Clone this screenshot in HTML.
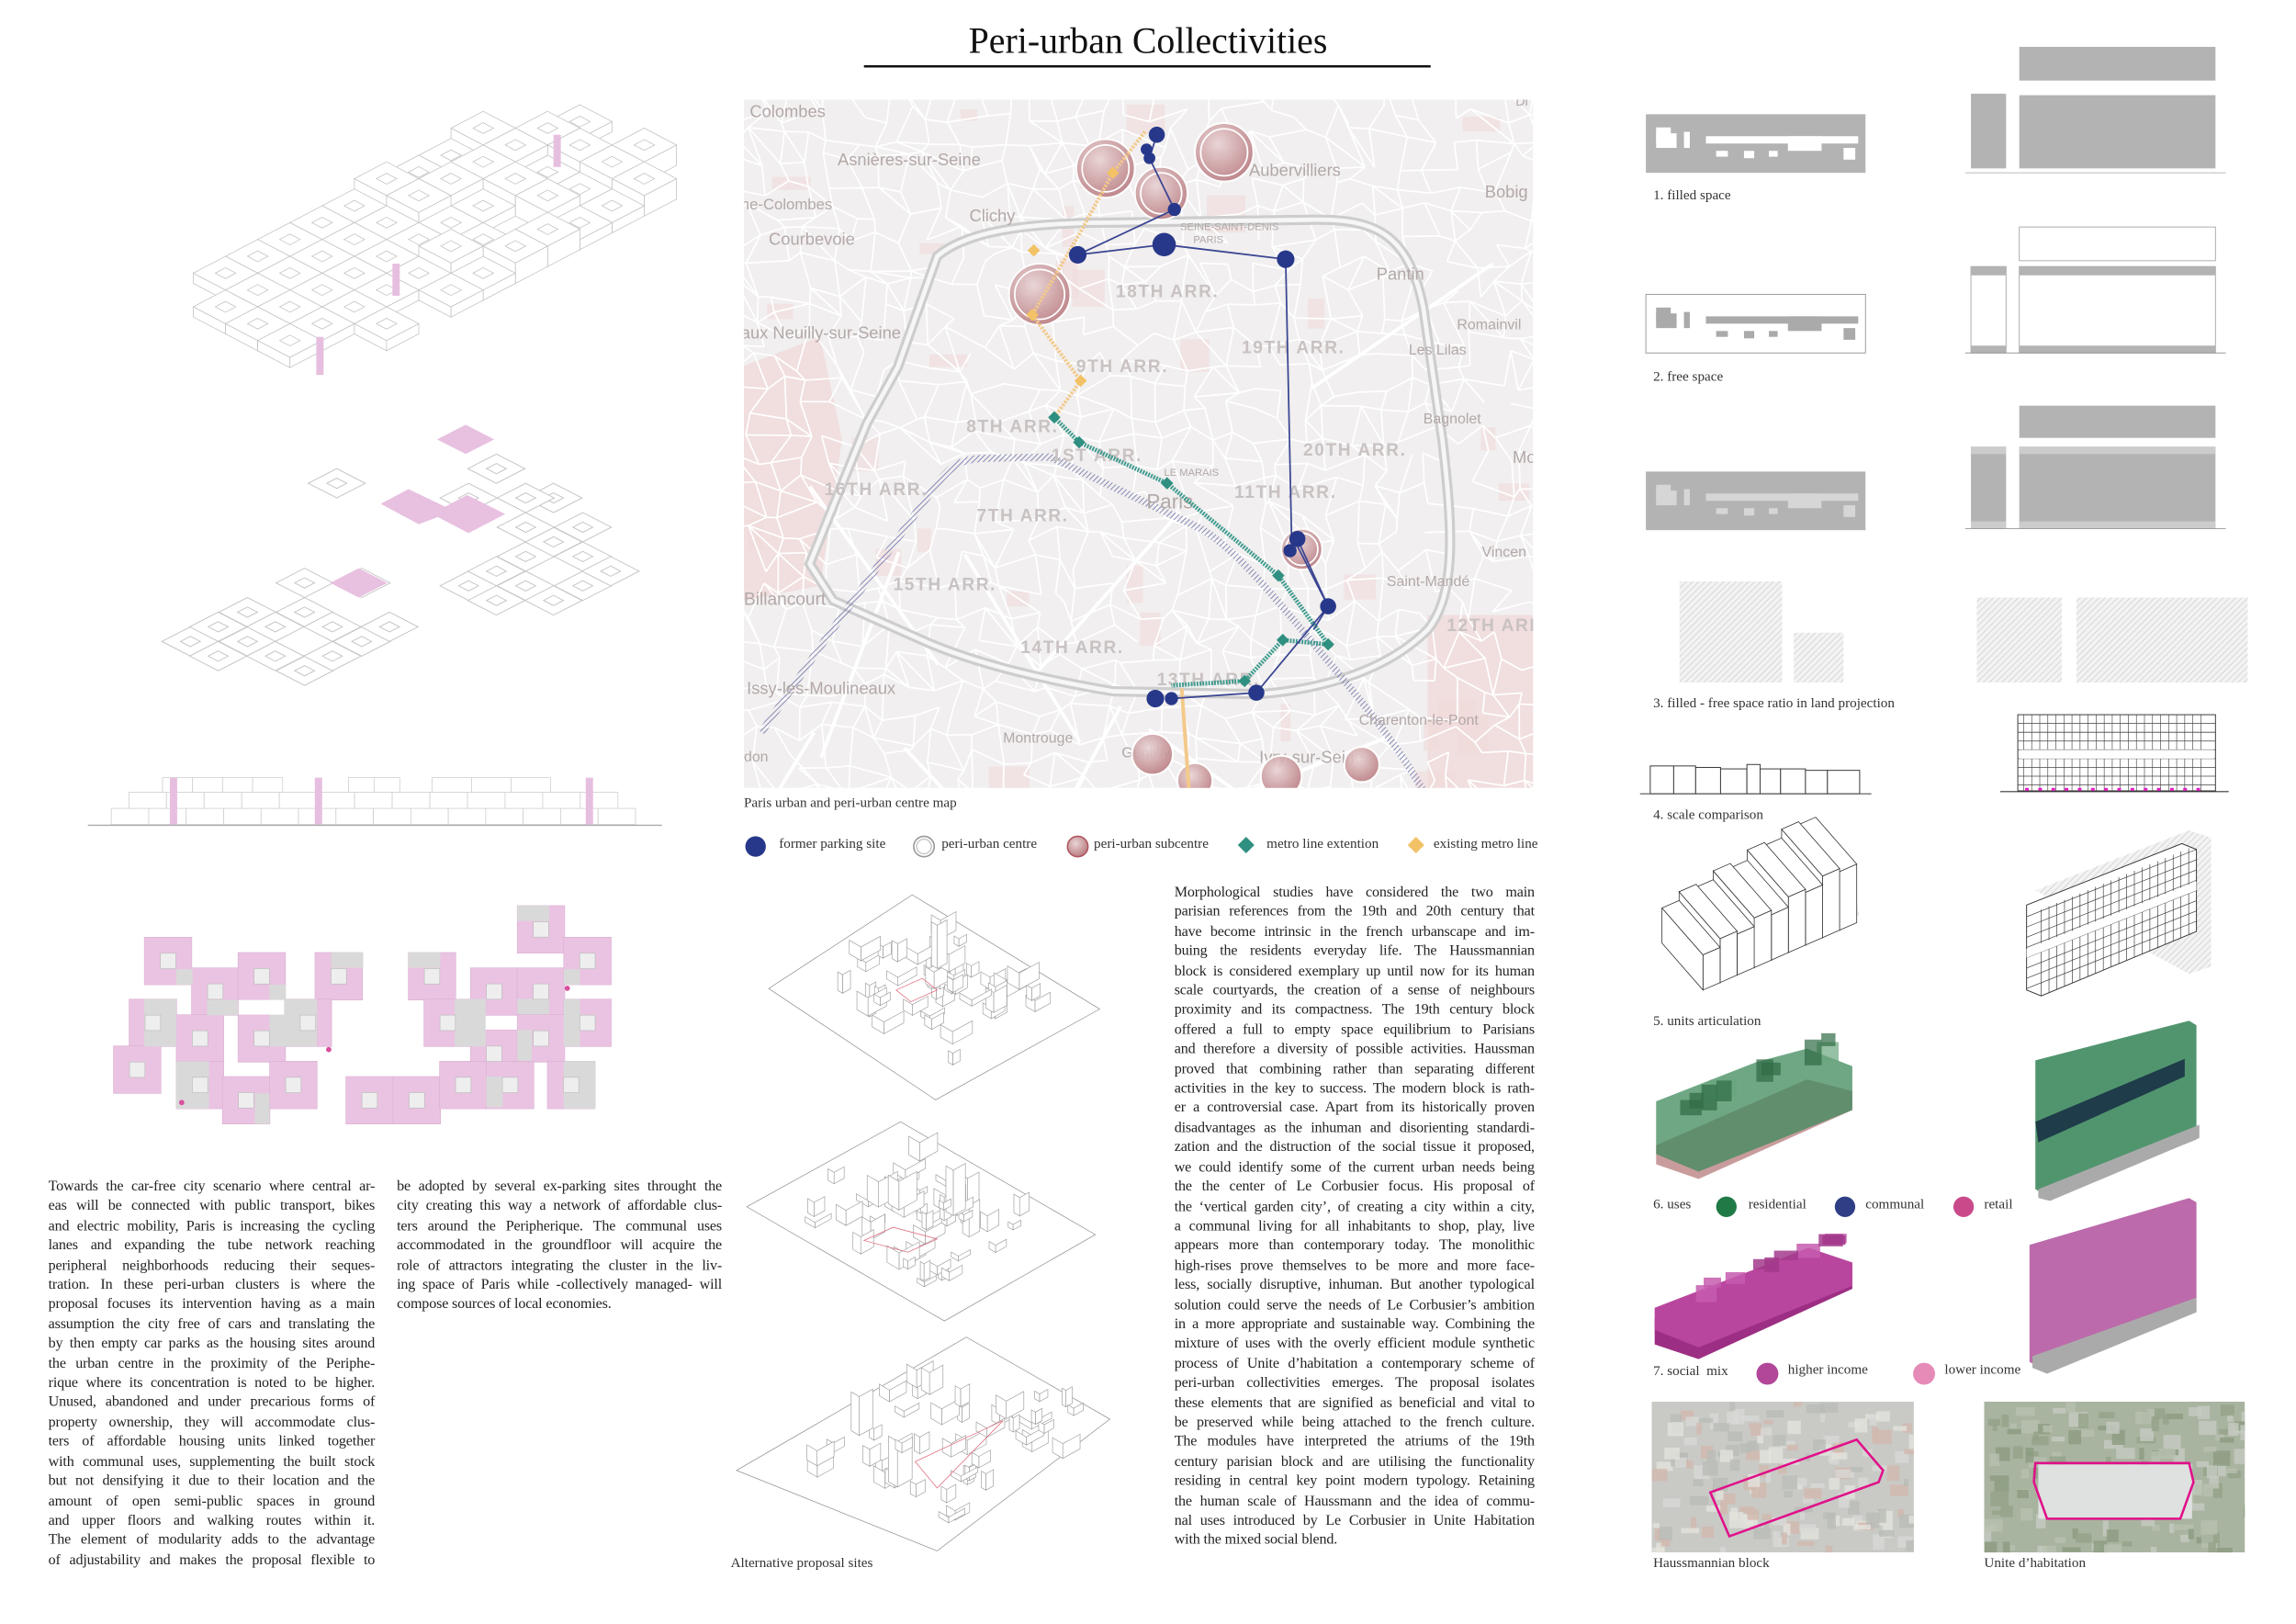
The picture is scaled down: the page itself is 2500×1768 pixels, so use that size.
<!DOCTYPE html>
<html><head><meta charset="utf-8">
<style>
html,body{margin:0;padding:0;background:#fff;width:2500px;height:1768px;overflow:hidden}
#w{position:absolute;left:0;top:0;width:1568px;height:1109px;transform:scale(1.5944);transform-origin:0 0;font-family:"Liberation Serif",serif;color:#222}
svg{position:absolute;left:0;top:0}
.t{position:absolute;font-size:10.1px;line-height:13.4px;letter-spacing:-0.1px}
.t div{text-align:justify;text-align-last:justify;white-space:nowrap;overflow:visible}
.t div.l{text-align-last:left}
.lab{position:absolute;font-size:9.5px;white-space:nowrap;color:#333}
</style></head><body>
<div id="w">
<svg id="s" width="1568" height="1109" viewBox="0 0 1568 1109">
<defs>
<pattern id="hat" width="3" height="3" patternUnits="userSpaceOnUse" patternTransform="rotate(45)"><rect width="3" height="3" fill="#f3f3f3"/><line x1="0" y1="0" x2="0" y2="3" stroke="#c8c8c8" stroke-width="0.8"/></pattern>
<pattern id="nav" width="2.5" height="2.5" patternUnits="userSpaceOnUse" patternTransform="rotate(45)"><line x1="0" y1="0" x2="0" y2="3" stroke="#6a6fa8" stroke-width="1"/></pattern>
<radialGradient id="rg" cx="0.4" cy="0.35" r="0.7"><stop offset="0" stop-color="#e9d3d3"/><stop offset="1" stop-color="#b7787e"/></radialGradient>
<clipPath id="mc"><rect x="508" y="68" width="539" height="470"/></clipPath>
<clipPath id="p1"><rect x="1128" y="957" width="179" height="103"/></clipPath>
<clipPath id="p2"><rect x="1355" y="957" width="178" height="103"/></clipPath>
</defs>
<text x="784" y="36" text-anchor="middle" font-family="Liberation Serif" font-size="25" fill="#111">Peri-urban Collectivities</text>
<rect x="590" y="44.5" width="387" height="1.6" fill="#111"/>

<g id="iso1" fill="#fff" stroke="#c4c4c4" stroke-width="0.5"></g>
<g id="iso2" fill="#fff" stroke="#c4c4c4" stroke-width="0.6"></g>
<g id="sec" fill="#fff" stroke="#cfcfcf" stroke-width="0.5"></g>
<g id="plan"></g>

<g clip-path="url(#mc)">
<rect x="508" y="68" width="539" height="470" fill="#f1efef"/>
<g id="mpatch" fill="#f1dada"></g>
<g id="roads" stroke="#fff" fill="none"></g>
<path id="ring" d="M640,175 C660,158 700,152 760,152 L900,150 C940,150 962,160 972,210 L985,300 C992,360 995,405 975,430 C950,455 910,470 860,474 L760,472 C700,462 660,450 634,439 L569,410 L553,385 L592,289 L613,251 Z" fill="none" stroke="#cdcdcd" stroke-width="7"/>
<path d="M640,175 C660,158 700,152 760,152 L900,150 C940,150 962,160 972,210 L985,300 C992,360 995,405 975,430 C950,455 910,470 860,474 L760,472 C700,462 660,450 634,439 L569,410 L553,385 L592,289 L613,251 Z" fill="none" stroke="#f6f6f6" stroke-width="3"/>
<path d="M520,500 L562,439 L640,330 C650,318 655,314 670,313 L717,312 L822,362 C850,380 880,420 910,455 C935,485 955,510 972,540" fill="none" stroke="url(#nav)" stroke-width="5"/>
<g font-family="Liberation Sans" fill="#b3a8a8" font-size="11.5">
<text x="512" y="80">Colombes</text><text x="572" y="113">Asnières-sur-Seine</text><text x="506" y="143" font-size="10.5">ne-Colombes</text>
<text x="662" y="151">Clichy</text><text x="525" y="167">Courbevoie</text><text x="506" y="231">aux Neuilly-sur-Seine</text>
<text x="853" y="120">Aubervilliers</text><text x="1014" y="135">Bobig</text><text x="940" y="191">Pantin</text>
<text x="995" y="225" font-size="10">Romainvil</text><text x="962" y="242" font-size="10">Les Lilas</text><text x="972" y="289" font-size="10">Bagnolet</text>
<text x="1033" y="316">Mo</text><text x="1012" y="380" font-size="10">Vincen</text><text x="947" y="400" font-size="10">Saint-Mandé</text>
<text x="508" y="413" font-size="12">Billancourt</text><text x="510" y="474">Issy-les-Moulineaux</text><text x="685" y="507" font-size="10">Montrouge</text>
<text x="766" y="517" font-size="10">Gentilly</text><text x="860" y="521">Ivry-sur-Seine</text><text x="928" y="495" font-size="10">Charenton-le-Pont</text><text x="508" y="520" font-size="10">don</text>
<text x="783" y="347" font-size="14">Paris</text><text x="795" y="325" font-size="7">LE MARAIS</text><text x="806" y="157" font-size="7">SEINE-SAINT-DENIS</text><text x="815" y="166" font-size="7">PARIS</text>
<text x="1035" y="72" font-size="9">Di</text>
</g>
<g font-family="Liberation Sans" font-weight="bold" fill="#c9c2c2" font-size="12" letter-spacing="1">
<text x="762" y="203">18TH ARR.</text><text x="848" y="241">19TH ARR.</text><text x="735" y="254">9TH ARR.</text>
<text x="660" y="295">8TH ARR.</text><text x="718" y="315">1ST ARR.</text><text x="890" y="311">20TH ARR.</text>
<text x="563" y="338">16TH ARR.</text><text x="667" y="356">7TH ARR.</text><text x="843" y="340">11TH ARR.</text>
<text x="610" y="403">15TH ARR.</text><text x="697" y="446">14TH ARR.</text><text x="988" y="431">12TH ARR.</text><text x="790" y="468">13TH ARR.</text>
</g>
<g stroke="#fff" stroke-width="1.3" fill="url(#rg)" opacity="0.9">
<circle cx="755" cy="115" r="20"/><circle cx="836" cy="104" r="20"/><circle cx="793" cy="132" r="18"/><circle cx="710" cy="201" r="21"/>
<circle cx="889" cy="375" r="14"/><circle cx="787" cy="515" r="14"/><circle cx="816" cy="533" r="12"/><circle cx="875" cy="530" r="14"/><circle cx="930" cy="522" r="12"/>
</g>
<g fill="none" stroke="#fff" stroke-width="1.1">
<circle cx="755" cy="115" r="16"/><circle cx="836" cy="104" r="16"/><circle cx="793" cy="132" r="14"/><circle cx="710" cy="201" r="17"/><circle cx="889" cy="375" r="11"/>
</g>
<path d="M782,90 L760,118 L737,160 L705,215 L738,260 L720,285" fill="none" stroke="#f3c98a" stroke-width="2.5" stroke-dasharray="1.5 1"/>
<path d="M807,470 L812,540" fill="none" stroke="#f3c98a" stroke-width="2.5"/>
<g fill="#f3c266"><rect x="757" y="115" width="6" height="6" transform="rotate(45 760 118)"/><rect x="702" y="212" width="6" height="6" transform="rotate(45 705 215)"/><rect x="735" y="257" width="6" height="6" transform="rotate(45 738 260)"/><rect x="703" y="168" width="6" height="6" transform="rotate(45 706 171)"/></g>
<path d="M720,285 L737,302 L797,330 L873,393 L907,440 L876,437 L850,465 L800,468" fill="none" stroke="#3e9b8e" stroke-width="3" stroke-dasharray="1.2 0.8"/>
<g fill="#2f8f80"><rect x="717" y="282" width="6" height="6" transform="rotate(45 720 285)"/><rect x="734" y="299" width="6" height="6" transform="rotate(45 737 302)"/><rect x="794" y="327" width="6" height="6" transform="rotate(45 797 330)"/><rect x="870" y="390" width="6" height="6" transform="rotate(45 873 393)"/><rect x="904" y="437" width="6" height="6" transform="rotate(45 907 440)"/><rect x="873" y="434" width="6" height="6" transform="rotate(45 876 437)"/><rect x="847" y="462" width="6" height="6" transform="rotate(45 850 465)"/></g>
<g fill="none" stroke="#3a4592" stroke-width="1.1">
<path d="M736,174 L795,167 L878,177 L882,365 L907,414 L858,473 L800,477"/>
<path d="M736,174 L802,143 L785,108 L790,92"/>
<path d="M886,368 L907,414 L897,430"/>
</g>
<g fill="#27388a">
<circle cx="790" cy="92" r="5.5"/><circle cx="783" cy="102" r="4"/><circle cx="785" cy="108" r="4"/><circle cx="802" cy="143" r="4.5"/>
<circle cx="736" cy="174" r="6"/><circle cx="795" cy="167" r="8"/><circle cx="878" cy="177" r="6"/>
<circle cx="886" cy="368" r="5.5"/><circle cx="881" cy="376" r="4.5"/><circle cx="907" cy="414" r="5.5"/>
<circle cx="789" cy="477" r="6"/><circle cx="800" cy="477" r="4.5"/><circle cx="858" cy="473" r="5.5"/>
</g>
</g>
<circle cx="516" cy="578" r="7" fill="#27388a"/>
<circle cx="631" cy="578" r="7" fill="#fff" stroke="#999" stroke-width="1"/><circle cx="631" cy="578" r="5" fill="none" stroke="#ccc" stroke-width="1"/>
<circle cx="736" cy="578" r="7" fill="url(#rg)" stroke="#b05560" stroke-width="1"/>
<rect x="847" y="573" width="8" height="8" fill="#2f8f80" transform="rotate(45 851 577)"/>
<rect x="963" y="573" width="8" height="8" fill="#f3c266" transform="rotate(45 967 577)"/>

<g id="alt" fill="#fff" stroke="#9a9a9a" stroke-width="0.5"></g>
<g id="rc"></g>
</svg>

<div class="lab" style="left:508px;top:544px">Paris urban and peri-urban centre map</div>
<div class="lab" style="left:532px;top:572px">former parking site</div>
<div class="lab" style="left:643px;top:572px">peri-urban centre</div>
<div class="lab" style="left:747px;top:572px">peri-urban subcentre</div>
<div class="lab" style="left:865px;top:572px">metro line extention</div>
<div class="lab" style="left:979px;top:572px">existing metro line</div>
<div class="lab" style="left:499px;top:1063px">Alternative proposal sites</div>

<div class="lab" style="left:1129px;top:129px">1. filled space</div>
<div class="lab" style="left:1129px;top:253px">2. free space</div>
<div class="lab" style="left:1129px;top:476px">3. filled - free space ratio in land projection</div>
<div class="lab" style="left:1129px;top:552px">4. scale comparison</div>
<div class="lab" style="left:1129px;top:693px">5. units articulation</div>
<div class="lab" style="left:1129px;top:818px">6. uses</div>
<div class="lab" style="left:1194px;top:818px">residential</div>
<div class="lab" style="left:1274px;top:818px">communal</div>
<div class="lab" style="left:1355px;top:818px">retail</div>
<div class="lab" style="left:1129px;top:932px">7. social &nbsp;mix</div>
<div class="lab" style="left:1221px;top:931px">higher income</div>
<div class="lab" style="left:1328px;top:931px">lower income</div>
<div class="lab" style="left:1129px;top:1063px">Haussmannian block</div>
<div class="lab" style="left:1355px;top:1063px">Unite d’habitation</div>

<div class="t" style="left:33px;top:804px;width:223px">
<div>Towards the car-free city scenario where central ar-</div>
<div>eas will be connected with public transport, bikes</div>
<div>and electric mobility, Paris is increasing the cycling</div>
<div>lanes and expanding the tube network reaching</div>
<div>peripheral neighborhoods reducing their seques-</div>
<div>tration. In these peri-urban clusters is where the</div>
<div>proposal focuses its intervention having as a main</div>
<div>assumption the city free of cars and translating the</div>
<div>by then empty car parks as the housing sites around</div>
<div>the urban centre in the proximity of the Periphe-</div>
<div>rique where its concentration is noted to be higher.</div>
<div>Unused, abandoned and under precarious forms of</div>
<div>property ownership, they will accommodate clus-</div>
<div>ters of affordable housing units linked together</div>
<div>with communal uses, supplementing the built stock</div>
<div>but not densifying it due to their location and the</div>
<div>amount of open semi-public spaces in ground</div>
<div>and upper floors and walking routes within it.</div>
<div>The element of modularity adds to the advantage</div>
<div>of adjustability and makes the proposal flexible to</div>
</div>
<div class="t" style="left:271px;top:804px;width:222px">
<div>be adopted by several ex-parking sites throught the</div>
<div>city creating this way a network of affordable clus-</div>
<div>ters around the Peripherique. The communal uses</div>
<div>accommodated in the groundfloor will acquire the</div>
<div>role of attractors integrating the cluster in the liv-</div>
<div>ing space of Paris while -collectively managed- will</div>
<div class="l">compose sources of local economies.</div>
</div>
<div class="t" style="left:802px;top:603px;width:246px">
<div>Morphological studies have considered the two main</div>
<div>parisian references from the 19th and 20th century that</div>
<div>have become intrinsic in the french urbanscape and im-</div>
<div>buing the residents everyday life. The Haussmannian</div>
<div>block is considered exemplary up until now for its human</div>
<div>scale courtyards, the creation of a sense of neighbours</div>
<div>proximity and its compactness. The 19th century block</div>
<div>offered a full to empty space equilibrium to Parisians</div>
<div>and therefore a diversity of possible activities. Haussman</div>
<div>proved that combining rather than separating different</div>
<div>activities in the key to success. The modern block is rath-</div>
<div>er a controversial case. Apart from its historically proven</div>
<div>disadvantages as the inhuman and disorienting standardi-</div>
<div>zation and the distruction of the social tissue it proposed,</div>
<div>we could identify some of the current urban needs being</div>
<div>the the center of Le Corbusier focus. His proposal of</div>
<div>the ‘vertical garden city’, of creating a city within a city,</div>
<div>a communal living for all inhabitants to shop, play, live</div>
<div>appears more than contemporary today. The monolithic</div>
<div>high-rises prove themselves to be more and more face-</div>
<div>less, socially disruptive, inhuman. But another typological</div>
<div>solution could serve the needs of Le Corbusier’s ambition</div>
<div>in a more appropriate and sustainable way. Combining the</div>
<div>mixture of uses with the overly efficient module synthetic</div>
<div>process of Unite d’habitation a contemporary scheme of</div>
<div>peri-urban collectivities emerges. The proposal isolates</div>
<div>these elements that are signified as beneficial and vital to</div>
<div>be preserved while being attached to the french culture.</div>
<div>The modules have interpreted the atriums of the 19th</div>
<div>century parisian block and are utilising the functionality</div>
<div>residing in central key point modern typology. Retaining</div>
<div>the human scale of Haussmann and the idea of commu-</div>
<div>nal uses introduced by Le Corbusier in Unite Habitation</div>
<div class="l">with the mixed social blend.</div>
</div>
</div>
<script>
var NS="http://www.w3.org/2000/svg";
function el(p,t,a){var e=document.createElementNS(NS,t);for(var k in a)e.setAttribute(k,a[k]);p.appendChild(e);return e}
var seed=7;function R(){seed=(seed*16807)%2147483647;return seed/2147483647}
function g(id){return document.getElementById(id)}
function pts(a){return a.map(function(p){return p[0].toFixed(1)+","+p[1].toFixed(1)}).join(" ")}
var HW=19.5,HH=10;
function rh(cx,cy,s,hw,hh){hw=hw||HW;hh=hh||HH;return [[cx,cy-hh*s],[cx+hw*s,cy],[cx,cy+hh*s],[cx-hw*s,cy]]}
(function(){
 var G=g("iso2");
 var cells=[[130,438],[169,438],[149,448],[188,448],[208,458],[227,448],[247,438],[169,418],[208,418],[188,428],[227,428],[208,398],[247,398],[266,428],[149,428],
  [320,400],[359,400],[339,410],[378,410],[398,400],[359,380],[398,380],[417,390],[378,370],[339,390],[359,360],[398,360],[378,340],[339,320],[359,340],[320,340]];
 cells.forEach(function(c){el(G,"polygon",{points:pts(rh(c[0],c[1],1))});el(G,"polygon",{points:pts(rh(c[0],c[1],0.35))})});
 el(G,"polygon",{points:pts(rh(318,300,1)),fill:"#e8c0e0",stroke:"none"});
 el(G,"polygon",{points:pts(rh(245,398,1)),fill:"#e8c0e0",stroke:"none"});
 el(G,"polygon",{points:"260,344 279,334 304,346 319,338 345,351 320,364 299,353 286,358",fill:"#e8c0e0",stroke:"none"});
 el(G,"polygon",{points:pts(rh(230,330,1))});el(G,"polygon",{points:pts(rh(230,330,0.35))});
})();
(function(){
 var G=g("iso1"),hw=22,hh=11.5;
 function box(cx,cy,h){
  el(G,"polygon",{points:pts([[cx-hw,cy],[cx,cy+hh],[cx,cy+hh-h],[cx-hw,cy-h]])});
  el(G,"polygon",{points:pts([[cx,cy+hh],[cx+hw,cy],[cx+hw,cy-h],[cx,cy+hh-h]])});
  el(G,"polygon",{points:pts(rh(cx,cy-h,1,hw,hh))});el(G,"polygon",{points:pts(rh(cx,cy-h,0.32,hw,hh))});}
 var list=[];
 for(var i=0;i<12;i++)for(var j=0;j<5;j++){
  if(i+j>14||(i<2&&j>3)||(i>9&&j<1))continue;
  if(R()<0.12)continue;
  var cx=132+hw*(i+j), cy=205-hh*(i-j);
  list.push([cx,cy,(i>4&&R()<0.5)?14:7]);
 }
 list.sort(function(a,b){return a[1]-b[1]||a[0]-b[0]});
 list.forEach(function(b){box(b[0],b[1],b[2])});
 el(G,"rect",{x:378,y:92,width:5,height:22,fill:"#e6bfe0",stroke:"none"});
 el(G,"rect",{x:268,y:180,width:5,height:22,fill:"#e6bfe0",stroke:"none"});
 el(G,"rect",{x:216,y:230,width:5,height:26,fill:"#e6bfe0",stroke:"none"});
})();
(function(){
 var G=g("sec");
 function row(x1,x2,y,h,n){var w=(x2-x1)/n;for(var i=0;i<n;i++)el(G,"rect",{x:x1+i*w,y:y,width:w,height:h})}
 row(76,434,552,11,14);row(88,422,541,11,13);row(111,193,531,10,4);row(238,273,531,10,2);row(295,376,531,10,3);
 el(G,"line",{x1:60,y1:563.5,x2:452,y2:563.5,stroke:"#aaa","stroke-width":0.8});
 [[116,531],[215,531],[400,531]].forEach(function(p){el(G,"rect",{x:p[0],y:p[1],width:5,height:32,fill:"#e6bfe0",stroke:"none"})});
})();
(function(){
 var G=g("plan");
 function X(z){return (80+z/2.53)/1.594} function Y(z){return (820+z/3)/1.594}
 var sq=[[195,600],[325,700],[453,650],[665,650],[153,802],[283,853],[453,853],[580,802],[110,955],[283,1005],[410,1055],[540,1005],[750,1055],[880,1055],[922,650],[965,802],[1093,700],[1222,700],[1222,497],[1350,600],[1350,802],[1093,903],[1222,853],[1008,1005],[1137,1005],[1305,1005]];
 sq.forEach(function(s){el(G,"rect",{x:X(s[0]),y:Y(s[1]),width:32.5,height:32.5,fill:"#e9c3e1",stroke:"#d8a9cf","stroke-width":0.3})});
 var gr=[[283,705,45,50],[368,805,85,50],[540,755,45,50],[540,802,130,155],[710,650,88,50],[195,802,88,155],[283,1005,90,155],[500,1110,40,100],[922,650,88,50],[1050,802,85,155],[1222,497,88,50],[1350,705,45,50],[1222,802,88,50],[1350,802,45,155],[1222,903,40,100],[1137,1055,45,100],[1350,1005,88,155]];
 gr.forEach(function(s){el(G,"rect",{x:X(s[0]),y:Y(s[1]),width:s[2]/2.53/1.594,height:s[3]/3/1.594,fill:"#d9d9d9"})});
 el(G,"rect",{x:X(455),y:Y(805),width:125/2.53/1.594,height:48/3/1.594,fill:"#fff"});
 sq.forEach(function(s){el(G,"rect",{x:X(s[0])+11,y:Y(s[1])+11,width:10.5,height:10.5,fill:"#eee",stroke:"#bbb","stroke-width":0.4})});
 [[703,967],[298,1140],[1360,767]].forEach(function(d){el(G,"circle",{cx:X(d[0]),cy:Y(d[1]),r:1.8,fill:"#d94f9e"})});
})();
(function(){
 var P=g("mpatch");
 el(P,"polygon",{points:"508,250 560,230 575,300 560,400 508,410",opacity:0.8});
 el(P,"rect",{x:975,y:420,width:72,height:118,opacity:0.8});
 for(var i=0;i<30;i++){el(P,"rect",{x:510+R()*530,y:70+R()*460,width:6+R()*22,height:6+R()*22,opacity:0.6})}
 var G=g("roads"),S=17,cols=Math.ceil(539/S)+2,rows=Math.ceil(470/S)+2,P2=[];
 for(var r=0;r<rows;r++){P2[r]=[];for(var c=0;c<cols;c++)P2[r][c]=[500+c*S+(R()-0.5)*S*0.9,60+r*S+(R()-0.5)*S*0.9];}
 var d="";
 for(var r=0;r<rows;r++)for(var c=0;c<cols;c++){var p=P2[r][c];
  if(c+1<cols&&R()<0.8)d+="M"+p[0].toFixed(1)+","+p[1].toFixed(1)+"L"+P2[r][c+1][0].toFixed(1)+","+P2[r][c+1][1].toFixed(1);
  if(r+1<rows&&R()<0.8)d+="M"+p[0].toFixed(1)+","+p[1].toFixed(1)+"L"+P2[r+1][c][0].toFixed(1)+","+P2[r+1][c][1].toFixed(1);
  if(r+1<rows&&c+1<cols&&R()<0.15)d+="M"+p[0].toFixed(1)+","+p[1].toFixed(1)+"L"+P2[r+1][c+1][0].toFixed(1)+","+P2[r+1][c+1][1].toFixed(1);}
 el(G,"path",{d:d,"stroke-width":1.1});
 for(var i=0;i<10;i++){var x=508+R()*539,y=68+R()*470,a=R()*Math.PI;el(G,"line",{x1:x,y1:y,x2:x+Math.cos(a)*150,y2:y+Math.sin(a)*150,"stroke-width":2.4})}
})();
(function(){
 var G=g("alt");
 var plates=[[[525,675],[623,611],[751,689],[639,751]],[[510,824],[615,766],[748,843],[645,902]],[[503,1004],[660,913],[758,969],[640,1059]]];
 plates.forEach(function(p){
  el(G,"polygon",{points:pts(p)});
  for(var k=0;k<45;k++){var u=0.1+R()*0.8,v=0.1+R()*0.8;
   var x=p[0][0]+(p[1][0]-p[0][0])*u+(p[3][0]-p[0][0])*v, y=p[0][1]+(p[1][1]-p[0][1])*u+(p[3][1]-p[0][1])*v;
   var w=4+R()*10,h=3+R()*(R()<0.2?30:10);
   el(G,"polygon",{points:pts([[x,y],[x+w,y-w*0.55],[x+w,y-w*0.55-h],[x,y-h]]),"stroke-width":0.4});
   el(G,"polygon",{points:pts([[x,y],[x-w*0.6,y-w*0.35],[x-w*0.6,y-w*0.35-h],[x,y-h]]),"stroke-width":0.4});
  }});
 el(G,"polygon",{points:"612,676 630,668 640,676 622,684",fill:"none",stroke:"#e07080"});
 el(G,"polygon",{points:"590,847 610,838 640,846 620,855",fill:"none",stroke:"#e07080"});
 el(G,"polygon",{points:"625,998 685,970 640,1016",fill:"none",stroke:"#e07080"});
})();
(function(){
 var G=g("rc");
 function r(x,y,w,h,f,s){return el(G,"rect",{x:x,y:y,width:w,height:h,fill:f||"#b3b3b3",stroke:s||"none","stroke-width":0.6})}
 function plan(y,bg,fg,outline){r(1124,y,150,40,bg,outline);
  r(1131,y+9,10,10,fg);r(1131,y+13,14,10,fg);r(1150,y+12,4,11,fg);r(1165,y+15,104,5,fg);r(1221,y+15,23,10,fg);r(1172,y+25,8,4,fg);r(1191,y+25,7,5,fg);r(1208,y+25,6,4,fg);r(1259,y+23,8,8,fg)}
 plan(78,"#b3b3b3","#fff");plan(201,"#fff","#aaa","#999");plan(322,"#b3b3b3","#d6d6d6");
 r(1346,64,24,51);r(1379,32,134,23);r(1379,65,134,50);el(G,"line",{x1:1342,y1:118,x2:1520,y2:118,stroke:"#bbb","stroke-width":0.6});
 r(1379,155,134,23,"#fff","#aaa");r(1346,182,24,59,"#fff","#aaa");r(1379,182,134,59,"#fff","#aaa");r(1346,182,24,6);r(1379,182,134,6);r(1346,236,24,5);r(1379,236,134,5);el(G,"line",{x1:1342,y1:241,x2:1520,y2:241,stroke:"#999","stroke-width":0.6});
 r(1379,277,134,22);r(1346,305,24,56);r(1379,305,134,56);r(1346,305,24,5,"#ccc");r(1379,305,134,5,"#ccc");r(1346,356,24,5,"#ccc");r(1379,356,134,5,"#ccc");el(G,"line",{x1:1342,y1:361,x2:1520,y2:361,stroke:"#999","stroke-width":0.6});
 r(1147,397,70,69,"url(#hat)");r(1225,432,34,34,"url(#hat)");r(1350,408,58,58,"url(#hat)");r(1418,408,117,58,"url(#hat)");
 var xs=[1127,1143,1158,1175,1193,1202,1216,1233,1248,1270],hs=[19,19,18,17,20,17,17,16,16,16];
 for(var i=0;i<9;i++)r(xs[i],542-hs[i],xs[i+1]-xs[i],hs[i],"#fff","#333");
 el(G,"line",{x1:1120,y1:542,x2:1278,y2:542,stroke:"#555","stroke-width":0.7});
 r(1378,488,135,52,"#fff","#333");
 for(var x=1382;x<1508;x+=5.5)el(G,"line",{x1:x,y1:488,x2:x,y2:540,stroke:"#444","stroke-width":0.4});
 for(var y=494;y<540;y+=6)el(G,"line",{x1:1378,y1:y,x2:1513,y2:y,stroke:"#444","stroke-width":0.5});
 r(1379,512,133,6,"#fff");
 el(G,"line",{x1:1366,y1:540.5,x2:1522,y2:540.5,stroke:"#333","stroke-width":0.7});
 for(var x=1383;x<1505;x+=9)r(x,538,2.5,2,"#e020c0");
 // units articulation left: row of boxes
 el(G,"polygon",{points:"1150,625 1240,585 1262,595 1270,625 1180,660",fill:"url(#hat)"});
 var B=[1163,676],C=[1268,630],A=[1135,644],n=9,u=[(C[0]-B[0])/n,(C[1]-B[1])/n],v=[A[0]-B[0],A[1]-B[1]];
 var hsU=[24,30,28,34,31,38,36,42,40];
 for(var i=n-1;i>=0;i--){var b0=[B[0]+u[0]*i,B[1]+u[1]*i],h=hsU[i];
  var b1=[b0[0]+u[0],b0[1]+u[1]],a0=[b0[0]+v[0],b0[1]+v[1]],a1=[b1[0]+v[0],b1[1]+v[1]];
  el(G,"polygon",{points:pts([b0,b1,[b1[0],b1[1]-h],[b0[0],b0[1]-h]]),fill:"#fff",stroke:"#333","stroke-width":0.5});
  el(G,"polygon",{points:pts([a0,b0,[b0[0],b0[1]-h],[a0[0],a0[1]-h]]),fill:"#fff",stroke:"#333","stroke-width":0.5});
  el(G,"polygon",{points:pts([[a0[0],a0[1]-h],[b0[0],b0[1]-h],[b1[0],b1[1]-h],[a1[0],a1[1]-h]]),fill:"#fff",stroke:"#333","stroke-width":0.5});
 }
 el(G,"polygon",{points:"1390,608 1495,567 1510,572 1510,660 1495,665",fill:"url(#hat)"});
 el(G,"polygon",{points:"1384,618 1490,576 1500,580 1500,636 1394,680 1384,676",fill:"#fff",stroke:"#333","stroke-width":0.6});
 for(var k=0;k<20;k++){var xx=1394+k*5.3;el(G,"line",{x1:xx,y1:621-k*2.2,x2:xx,y2:680-k*2.2,stroke:"#333","stroke-width":0.4})}
 for(var k=0;k<8;k++){var yy=626+k*7;el(G,"line",{x1:1384,y1:yy,x2:1500,y2:yy-46,stroke:"#333","stroke-width":0.4})}
 el(G,"polygon",{points:"1384,648 1500,602 1500,608 1384,654",fill:"#fff"});
 el(G,"polygon",{points:"1131,782 1234,737 1265,745 1265,758 1160,805 1131,795",fill:"#c89c9c"});
 el(G,"polygon",{points:"1131,752 1200,725 1234,716 1265,728 1265,758 1160,800 1131,788",fill:"#3f8a5c","fill-opacity":0.75});
 for(var i=0;i<12;i++){var x=1138+R()*110,y=760-(x-1138)*0.42+R()*8;el(G,"rect",{x:x,y:y-12,width:8+R()*8,height:8+R()*10,fill:i%3?"#2f6b45":"#6aa77e","fill-opacity":0.7})}
 el(G,"polygon",{points:"1390,724 1495,697 1500,700 1500,778 1400,818 1390,812",fill:"#3e8a5e","fill-opacity":0.9});
 el(G,"polygon",{points:"1390,766 1492,723 1492,735 1392,780",fill:"#1f3c4a"});
 el(G,"polygon",{points:"1392,812 1502,768 1502,777 1400,820 1392,818",fill:"#aaa"});
 el(G,"circle",{cx:1179,cy:824,r:7,fill:"#1f7a45"});el(G,"circle",{cx:1260,cy:824,r:7,fill:"#2e3f86"});el(G,"circle",{cx:1341,cy:824,r:7,fill:"#c94a8a"});
 el(G,"polygon",{points:"1130,900 1235,857 1265,863 1265,880 1160,928 1130,918",fill:"#9c2e83"});
 el(G,"polygon",{points:"1130,893 1200,866 1235,852 1265,862 1265,878 1160,920 1130,908",fill:"#b9469e"});
 for(var i=0;i<10;i++){var x=1140+R()*110,y=890-(x-1140)*0.4+R()*6;el(G,"rect",{x:x,y:y-10,width:9+R()*8,height:6+R()*6,fill:i%2?"#c55cae":"#a33a8c","fill-opacity":0.85})}
 el(G,"polygon",{points:"1386,850 1495,818 1500,821 1500,895 1398,936 1386,930",fill:"#b55aa2","fill-opacity":0.9});
 el(G,"polygon",{points:"1388,926 1500,886 1500,896 1398,938 1388,934",fill:"#aaa"});
 el(G,"circle",{cx:1207,cy:938,r:7.5,fill:"#b2479a"});el(G,"circle",{cx:1314,cy:938,r:7.5,fill:"#e68ab8"});
 [[1128,"p1","#c9cac6"],[1355,"p2","#a9b4a0"]].forEach(function(p,pi){
  var gg=el(G,"g",{"clip-path":"url(#"+p[1]+")"});
  el(gg,"rect",{x:p[0],y:957,width:180,height:103,fill:p[2]});
  for(var k=0;k<160;k++){var c=pi?["#93a388","#b8c0b0","#8b9b80","#c6cbc2"]:["#d8d8d6","#b9bbb7","#d2b8ae","#e3e2dc"];
   el(gg,"rect",{x:p[0]+R()*178,y:957+R()*100,width:3+R()*10,height:3+R()*8,fill:c[k%4],opacity:0.8})}
 });
 el(G,"rect",{x:1392,y:1000,width:105,height:37,fill:"#dfe1e0"});
 el(G,"polygon",{points:"1168,1019 1268,983 1286,1004 1283,1012 1181,1049",fill:"none",stroke:"#e0108a","stroke-width":1.6});
 el(G,"polygon",{points:"1390,999 1495,999 1498,1012 1489,1037 1398,1037 1389,1012",fill:"none",stroke:"#e0108a","stroke-width":1.6});
})();
</script>
</body></html>
